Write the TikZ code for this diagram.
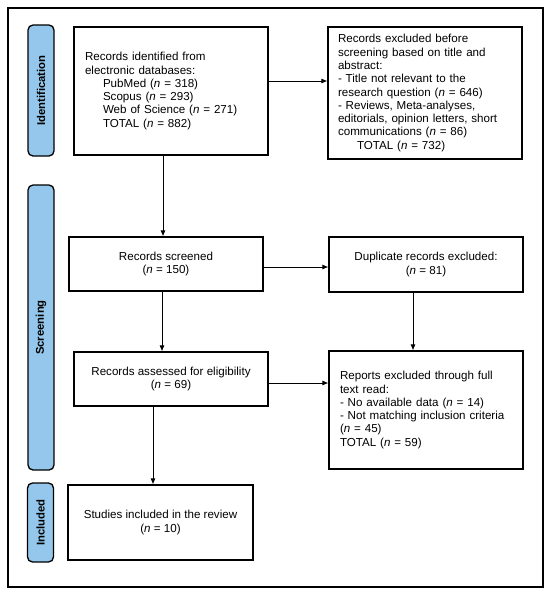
\documentclass[tikz,border=0pt]{standalone}
\usepackage{fontspec}
\setmainfont{Liberation Sans}
\usetikzlibrary{arrows.meta}
\definecolor{barblue}{RGB}{148,199,235}
\begin{document}
\begin{tikzpicture}[x=1pt,y=-1pt,
  every node/.style={font=\fontsize{11.6}{13.3}\selectfont},
  box/.style={draw=black,line width=1.2pt,rectangle,inner ysep=2pt},
  lbox/.style={box,align=left,inner xsep=#1pt},
  cbox/.style={box,align=center},
  bar/.style={draw=black,line width=1.3pt,fill=barblue,rounded corners=5pt,inner sep=0pt},
  barlabel/.style={rotate=90,font=\fontsize{11.3}{13}\selectfont\bfseries},
  arr/.style={line width=0.8pt,-{Latex[length=6pt,width=5pt]}}]
\useasboundingbox (0,0) rectangle (550,595);
\node[draw=black,line width=1.5pt,minimum width=535pt,minimum height=579pt,inner sep=0pt] (frame) at (275.5,297.5) {};
% phase bars
\node[bar,minimum width=26pt,minimum height=131pt] (idbar) at (41,90.5) {};
\node[barlabel] (idlab) at (idbar.center) {Identification};
\node[bar,minimum width=26pt,minimum height=285pt] (scbar) at (41,327.5) {};
\node[barlabel] (sclab) at (scbar.center) {Screening};
\node[bar,minimum width=26pt,minimum height=79pt] (inbar) at (40.5,522.5) {};
\node[barlabel] (inlab) at (inbar.center) {Included};
% boxes
\node[lbox=11,text width=172pt,minimum height=128pt] (b1) at (171,91)
 {Records identified from\\electronic databases:\\
 \hspace*{18pt}PubMed (\textit{n} = 318)\\
 \hspace*{18pt}Scopus (\textit{n} = 293)\\
 \hspace*{18pt}Web of Science (\textit{n} = 271)\\
 \hspace*{18pt}TOTAL (\textit{n} = 882)};
\node[lbox=10,text width=174pt,minimum height=132pt] (b2) at (425,93)
 {Records excluded before\\screening based on title and\\abstract:\\
 - Title not relevant to the\\research question (\textit{n} = 646)\\
 - Reviews, Meta-analyses,\\editorials, opinion letters, short\\communications (\textit{n} = 86)\\
 \hspace*{19pt}TOTAL (\textit{n} = 732)};
\node[cbox,minimum width=194pt,minimum height=54pt] (b3) at (166,264)
 {Records screened\\(\textit{n} = 150)};
\node[cbox,minimum width=194pt,minimum height=55pt] (b4) at (426,264.5)
 {Duplicate records excluded:\\(\textit{n} = 81)};
\node[cbox,minimum width=194pt,minimum height=54pt] (b5) at (171,379)
 {Records assessed for eligibility\\(\textit{n} = 69)};
\node[lbox=11,text width=172pt,minimum height=118pt] (b6) at (426,410)
 {Reports excluded through full\\text read:\\
 - No available data (\textit{n} = 14)\\
 - Not matching inclusion criteria\\(\textit{n} = 45)\\TOTAL (\textit{n} = 59)\\[10pt]};
\node[cbox,minimum width=185pt,minimum height=75pt] (b7) at (160.5,522.5)
 {Studies included in the review\\(\textit{n} = 10)};
% arrows
\draw[arr] ([yshift=10pt]b1.east) -- ([yshift=10pt]b1.east -| b2.west);
\draw[arr] ([xshift=-8pt]b1.south) -- ([xshift=-8pt]b1.south |- b3.north);
\draw[arr] ([yshift=-3pt]b3.east) -- ([yshift=-3pt]b3.east -| b4.west);
\draw[arr] ([xshift=-4pt]b3.south) -- ([xshift=-4pt]b3.south |- b5.north);
\draw[arr] ([xshift=-13pt]b4.south) -- ([xshift=-13pt]b4.south |- b6.north);
\draw[arr] ([yshift=-4pt]b5.east) -- ([yshift=-4pt]b5.east -| b6.west);
\draw[arr] ([xshift=-18pt]b5.south) -- ([xshift=-18pt]b5.south |- b7.north);
\end{tikzpicture}
\end{document}
